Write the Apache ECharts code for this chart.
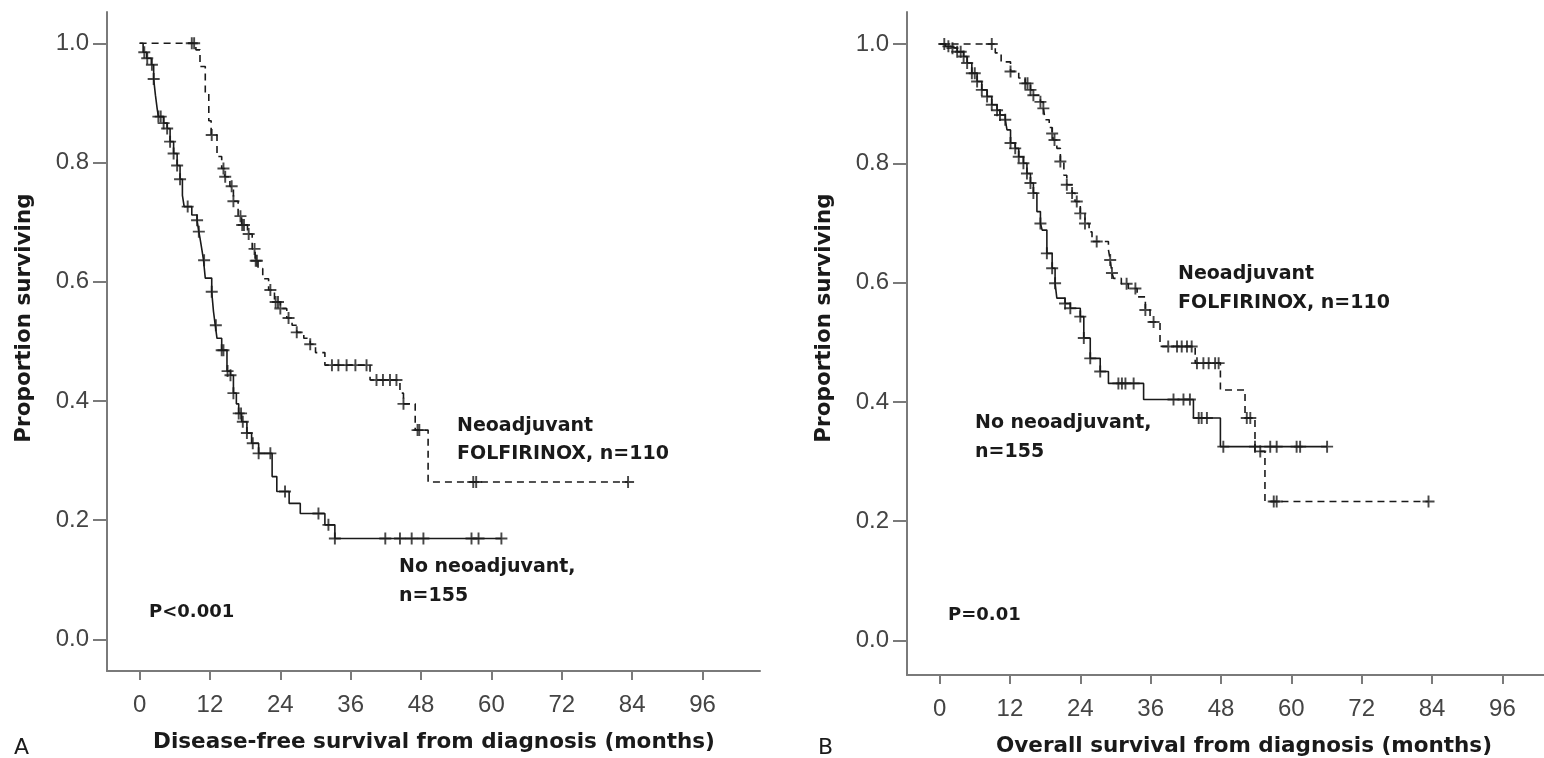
<!DOCTYPE html>
<html>
<head>
<meta charset="utf-8">
<script src="https://cdn.jsdelivr.net/npm/echarts@6/dist/echarts.min.js"></script>
<style>
html, body { margin: 0; padding: 0; background: #fff; }
#main { width: 1544px; height: 758px; }
</style>
</head>
<body>
<div id="main"></div>
<script>
// Kaplan-Meier step points: [months, proportion surviving]
var neoDfsSteps = [[0,1.0],[9.6,0.989],[10.3,0.961],[11.2,0.916],[11.8,0.87],[12.2,0.846],[13.2,0.81],[14.0,0.79],[14.5,0.776],
  [15.4,0.76],[16.0,0.735],[16.8,0.71],[17.4,0.695],[18.4,0.68],[19.2,0.655],[19.7,0.635],[20.2,0.622],[21.0,0.605],
  [22.0,0.586],[23.0,0.566],[24.0,0.555],[25.1,0.539],[26.0,0.527],[26.8,0.515],[28.0,0.505],[29.1,0.495],[30.0,0.481],
  [31.6,0.46],[39.3,0.435],[44.4,0.413],[45.0,0.395],[47.0,0.351],[49.2,0.264],[83.3,0.264]];
var neoDfsCensored = [8.9,9.3,12.3,14.3,14.6,15.7,16.0,17.2,17.5,17.8,18.6,19.6,19.8,20.0,22.3,23.2,23.6,24.0,25.4,26.8,
  29.1,32.8,33.9,35.3,36.8,38.7,40.4,41.5,42.7,43.8,45.0,47.4,47.7,56.9,57.4,83.3];

var noDfsSteps = [[0,1.0],[0.6,0.985],[1.2,0.975],[2.0,0.964],[2.4,0.94],[2.7,0.913],[3.0,0.89],[3.2,0.877],[4.1,0.866],
  [4.7,0.857],[5.2,0.835],[5.8,0.815],[6.4,0.795],[6.9,0.772],[7.3,0.745],[7.6,0.726],[8.9,0.712],[9.8,0.703],[10.1,0.684],
  [10.3,0.673],[10.6,0.655],[10.9,0.636],[11.2,0.606],[12.3,0.583],[12.6,0.55],[12.9,0.527],[13.2,0.505],[14.0,0.485],
  [14.9,0.45],[15.5,0.443],[16.0,0.413],[16.5,0.395],[16.9,0.379],[17.4,0.365],[18.3,0.346],[19.1,0.329],[20.3,0.312],
  [22.6,0.273],[23.4,0.248],[25.5,0.228],[27.4,0.211],[31.6,0.192],[33.3,0.169],[61.7,0.169]];
var noDfsCensored = [0.8,1.3,2.1,2.4,3.2,3.6,4.1,4.7,5.2,5.8,6.4,6.9,8.2,9.8,10.1,11.0,12.3,13.0,14.0,14.3,15.0,15.5,16.0,
  16.9,17.3,17.6,18.3,19.3,20.3,22.3,24.8,30.5,32.2,33.3,41.9,44.4,46.4,48.4,56.6,57.8,61.7];

var neoOsSteps = [[0,1.0],[9.5,0.985],[10.5,0.97],[12.1,0.954],[13.5,0.943],[14.6,0.934],[15.5,0.923],[16.0,0.914],[17.2,0.903],
  [17.7,0.892],[18.0,0.873],[18.7,0.86],[19.2,0.85],[19.4,0.839],[20.0,0.825],[20.6,0.803],[21.2,0.78],[21.7,0.764],
  [22.6,0.75],[23.1,0.736],[24.0,0.716],[24.8,0.699],[25.5,0.685],[26.0,0.669],[28.8,0.655],[29.1,0.638],[29.4,0.616],
  [29.7,0.607],[31.0,0.598],[32.2,0.59],[33.7,0.576],[35.1,0.554],[35.9,0.534],[37.6,0.493],[43.6,0.465],[47.9,0.42],
  [52.1,0.373],[53.8,0.317],[55.5,0.233],[83.4,0.233]];
var neoOsCensored = [8.9,12.1,14.6,15.0,15.5,16.0,17.2,17.7,19.2,19.6,20.6,21.7,22.6,23.4,24.0,24.8,26.8,29.1,29.4,31.9,
  33.4,35.1,36.5,39.0,40.5,41.3,42.2,43.0,43.9,45.0,45.9,47.0,47.6,52.4,53.0,54.7,57.0,57.5,83.4];

var noOsSteps = [[0,1.0],[1.0,0.996],[1.8,0.993],[3.0,0.987],[4.1,0.979],[4.7,0.968],[5.5,0.951],[6.4,0.937],[7.2,0.923],
  [8.1,0.912],[8.9,0.898],[9.8,0.889],[10.3,0.881],[11.2,0.873],[11.5,0.856],[12.1,0.834],[12.9,0.825],[13.5,0.811],
  [14.3,0.8],[14.9,0.783],[15.5,0.767],[16.0,0.75],[16.6,0.719],[17.2,0.699],[17.5,0.688],[18.3,0.649],[19.2,0.624],
  [19.7,0.599],[20.0,0.574],[21.4,0.565],[22.3,0.557],[24.0,0.543],[24.6,0.507],[25.7,0.473],[27.4,0.451],[28.8,0.431],
  [34.8,0.404],[43.3,0.373],[47.9,0.325],[66.1,0.325]];
var noOsCensored = [0.8,1.5,2.2,3.0,3.6,4.1,4.7,5.5,6.0,6.4,7.2,8.1,8.9,9.8,10.3,11.2,12.1,12.9,13.5,14.3,14.9,15.5,16.0,
  17.2,18.3,19.2,19.7,21.4,22.3,24.0,24.6,25.7,27.4,30.5,31.1,31.7,33.1,39.9,41.6,42.7,44.2,44.7,45.6,48.4,53.8,56.4,
  57.5,60.9,61.5,66.1];

var monthTicks = [0, 12, 24, 36, 48, 60, 72, 84, 96];
var propTicks = [0, 0.2, 0.4, 0.6, 0.8, 1.0];

function survAt(steps, t) {
    var s = steps[0][1];
    for (var i = 0; i < steps.length; i++) {
        if (steps[i][0] <= t) s = steps[i][1];
    }
    return s;
}
function censorPoints(steps, times) {
    return times.map(function (t) { return [t, survAt(steps, t)]; });
}

var ink = '#1a1a1a';
var axisGray = '#7a7a7a';
var plus = 'path://M4.2,0H5.8V4.2H10V5.8H5.8V10H4.2V5.8H0V4.2H4.2Z';
var tickFont = 'Liberation Sans';
var boldFont = 'bold 19px "DejaVu Sans"';

function makeX(gi, max) {
    return {
        type: 'value', gridIndex: gi, min: -5.56, max: max,
        axisLine: {onZero: false, lineStyle: {color: axisGray, width: 2}},
        axisTick: {customValues: monthTicks, length: 9, lineStyle: {color: axisGray, width: 2}},
        axisLabel: {customValues: monthTicks, margin: 22, fontFamily: tickFont, fontSize: 24, color: '#444'},
        splitLine: {show: false}
    };
}
function makeY(gi, min, max) {
    return {
        type: 'value', gridIndex: gi, min: min, max: max,
        axisLine: {show: true, onZero: false, lineStyle: {color: axisGray, width: 2}},
        axisTick: {show: true, customValues: propTicks, length: 14, lineStyle: {color: axisGray, width: 2}},
        axisLabel: {customValues: propTicks, margin: 18, fontFamily: tickFont, fontSize: 24, color: '#444',
            formatter: function (v) { return v.toFixed(1); }},
        splitLine: {show: false}
    };
}
function curve(steps, gi, dashed) {
    return {
        type: 'line', xAxisIndex: gi, yAxisIndex: gi, step: 'end', symbol: 'none',
        lineStyle: {color: ink, width: 1.6, type: dashed ? [7, 5] : 'solid'},
        data: steps, z: 2
    };
}
function marks(steps, times, gi) {
    return {
        type: 'scatter', xAxisIndex: gi, yAxisIndex: gi, symbol: plus, symbolSize: 12,
        itemStyle: {color: ink}, data: censorPoints(steps, times), z: 3
    };
}
function label(text, x, y, font, align) {
    return {type: 'text', x: x, y: y,
        style: {text: text, font: font, fill: '#1a1a1a', textAlign: align || 'left', textVerticalAlign: 'middle'}};
}

var option = {
    animation: false,
    backgroundColor: '#fff',
    grid: [
        {left: 107, top: 12, width: 653, bottom: 87},
        {left: 907, top: 12, right: 0, bottom: 83}
    ],
    xAxis: [makeX(0, 105.8), makeX(1, 103.1)],
    yAxis: [makeY(0, -0.0532, 1.0525), makeY(1, -0.0578, 1.0536)],
    series: [
        curve(noDfsSteps, 0, false), marks(noDfsSteps, noDfsCensored, 0),
        curve(neoDfsSteps, 0, true), marks(neoDfsSteps, neoDfsCensored, 0),
        curve(noOsSteps, 1, false), marks(noOsSteps, noOsCensored, 1),
        curve(neoOsSteps, 1, true), marks(neoOsSteps, neoOsCensored, 1)
    ],
    graphic: [
        label('Neoadjuvant', 457, 426, boldFont),
        label('FOLFIRINOX, n=110', 457, 454, boldFont),
        label('No neoadjuvant,', 399, 567, boldFont),
        label('n=155', 399, 596, boldFont),
        label('P<0.001', 149, 612, 'bold 18px "DejaVu Sans"'),
        label('Neoadjuvant', 1178, 274, boldFont),
        label('FOLFIRINOX, n=110', 1178, 303, boldFont),
        label('No neoadjuvant,', 975, 423, boldFont),
        label('n=155', 975, 452, boldFont),
        label('P=0.01', 948, 615, 'bold 18px "DejaVu Sans"'),
        label('Disease-free survival from diagnosis (months)', 434, 742, 'bold 21.5px "DejaVu Sans"', 'center'),
        label('Overall survival from diagnosis (months)', 1244, 746, 'bold 21.5px "DejaVu Sans"', 'center'),
        label('A', 14, 748, '22px "DejaVu Sans"'),
        label('B', 818, 748, '22px "DejaVu Sans"'),
        {type: 'text', x: 24, y: 318, rotation: Math.PI / 2,
            style: {text: 'Proportion surviving', font: 'bold 21.5px "DejaVu Sans"', fill: '#1a1a1a',
                textAlign: 'center', textVerticalAlign: 'middle'}},
        {type: 'text', x: 824, y: 318, rotation: Math.PI / 2,
            style: {text: 'Proportion surviving', font: 'bold 21.5px "DejaVu Sans"', fill: '#1a1a1a',
                textAlign: 'center', textVerticalAlign: 'middle'}}
    ]
};

var chart = echarts.init(document.getElementById('main'));
chart.setOption(option);
</script>
</body>
</html>
